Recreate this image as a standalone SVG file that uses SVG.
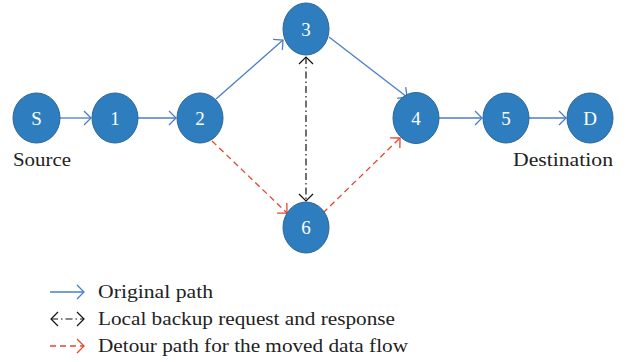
<svg xmlns="http://www.w3.org/2000/svg" width="627" height="362" viewBox="0 0 627 362">
<style>
.node ellipse{fill:#2E7EBF;stroke:#2A6698;stroke-width:1}
.node text{fill:#fff;font-family:"Liberation Serif",serif;font-size:19px;text-anchor:middle}
.lbl{fill:#222;font-family:"Liberation Serif",serif;font-size:19px}
.blue{stroke:#4A7EC4;stroke-width:1.3;fill:none}
.red{stroke:#E8452C;stroke-width:1.3;fill:none;stroke-dasharray:6 4}
.blk{stroke:#111;stroke-width:1.2;fill:none;stroke-dasharray:7 3 1.5 3}
</style>
<defs>
<marker id="ab" markerUnits="userSpaceOnUse" markerWidth="12" markerHeight="16" refX="9" refY="8" orient="auto"><path d="M2,1 L9,8 L2,15" fill="none" stroke="#4A7EC4" stroke-width="1.3"/></marker>
<marker id="ar" markerUnits="userSpaceOnUse" markerWidth="12" markerHeight="16" refX="9" refY="8" orient="auto"><path d="M2,1 L9,8 L2,15" fill="none" stroke="#E8452C" stroke-width="1.3"/></marker>
<marker id="ak" markerUnits="userSpaceOnUse" markerWidth="12" markerHeight="16" refX="9" refY="8" orient="auto"><path d="M2,1 L9,8 L2,15" fill="none" stroke="#111" stroke-width="1.2"/></marker>
<marker id="aks" markerUnits="userSpaceOnUse" markerWidth="12" markerHeight="16" refX="9" refY="8" orient="auto-start-reverse"><path d="M2,1 L9,8 L2,15" fill="none" stroke="#111" stroke-width="1.2"/></marker>
</defs>
<g id="connectors">
<line class="blue" x1="60" y1="118" x2="91" y2="118" marker-end="url(#ab)"/>
<line class="blue" x1="138" y1="118" x2="176" y2="118" marker-end="url(#ab)"/>
<line class="blue" x1="216" y1="99" x2="283" y2="40" marker-end="url(#ab)"/>
<line class="blue" x1="329" y1="37" x2="407" y2="97" marker-end="url(#ab)"/>
<line class="blue" x1="439" y1="118" x2="482" y2="118" marker-end="url(#ab)"/>
<line class="blue" x1="529" y1="118" x2="566" y2="118" marker-end="url(#ab)"/>
<line class="red" x1="212" y1="141" x2="287" y2="213" marker-end="url(#ar)"/>
<line class="red" x1="323" y1="213" x2="400" y2="138" marker-end="url(#ar)"/>
<line class="blk" x1="306" y1="57" x2="306" y2="201" marker-start="url(#aks)" marker-end="url(#ak)"/>
</g>
<g id="node-S" class="node"><ellipse cx="36.5" cy="118" rx="23.5" ry="25"/><text x="36.5" y="124.5">S</text></g>
<g id="node-1" class="node"><ellipse cx="115" cy="118" rx="23" ry="25"/><text x="115" y="124.5">1</text></g>
<g id="node-2" class="node"><ellipse cx="200" cy="118" rx="23" ry="25"/><text x="200" y="124.5">2</text></g>
<g id="node-3" class="node"><ellipse cx="306" cy="29" rx="23" ry="26"/><text x="306" y="35.5">3</text></g>
<g id="node-4" class="node"><ellipse cx="416" cy="118" rx="23" ry="25.5"/><text x="416" y="124.5">4</text></g>
<g id="node-5" class="node"><ellipse cx="506" cy="118" rx="23" ry="25"/><text x="506" y="124.5">5</text></g>
<g id="node-D" class="node"><ellipse cx="590" cy="118" rx="23" ry="25"/><text x="590" y="124.5">D</text></g>
<g id="node-6" class="node"><ellipse cx="306" cy="227.5" rx="23" ry="25.5"/><text x="306" y="234">6</text></g>
<text class="lbl" x="13" y="166" textLength="58" lengthAdjust="spacingAndGlyphs">Source</text>
<text class="lbl" x="513" y="166" textLength="100" lengthAdjust="spacingAndGlyphs">Destination</text>
<g id="legend">
<line class="blue" x1="50" y1="292" x2="84" y2="292" marker-end="url(#ab)"/>
<line class="blk" x1="51" y1="319" x2="84" y2="319" stroke-dasharray="5 4 1.5 4" marker-start="url(#aks)" marker-end="url(#ak)"/>
<line class="red" x1="50" y1="346" x2="84" y2="346" marker-end="url(#ar)"/>
<text class="lbl" x="98" y="298" textLength="115" lengthAdjust="spacingAndGlyphs">Original path</text>
<text class="lbl" x="98" y="325" textLength="297" lengthAdjust="spacingAndGlyphs">Local backup request and response</text>
<text class="lbl" x="98" y="352" textLength="310" lengthAdjust="spacingAndGlyphs">Detour path for the moved data flow</text>
</g>
</svg>
